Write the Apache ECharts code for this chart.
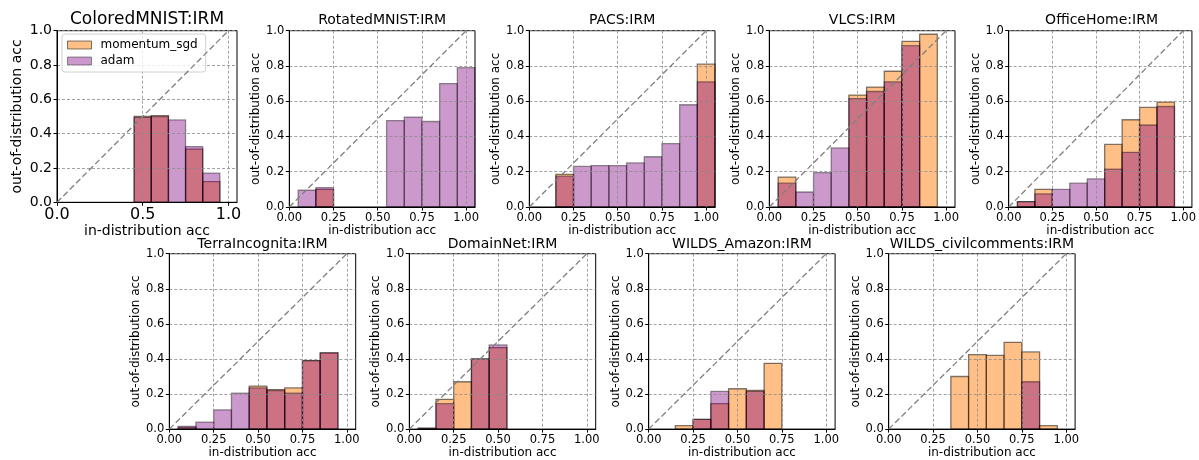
<!DOCTYPE html>
<html>
<head>
<meta charset="utf-8">
<script src="https://cdn.jsdelivr.net/npm/echarts@6/dist/echarts.min.js"></script>
<style>
  html, body { margin: 0; padding: 0; background: #fff; }
  #chart { width: 1199px; height: 460px; }
</style>
</head>
<body>
<div id="chart"></div>
<script>
// histogram bins: centre of each 0.1 wide bin
const binCenters = [0.1, 0.2, 0.3, 0.4, 0.5, 0.6, 0.7, 0.8, 0.9, 1.0];
const panelTitles = ['ColoredMNIST:IRM', 'RotatedMNIST:IRM', 'PACS:IRM', 'VLCS:IRM', 'OfficeHome:IRM',
  'TerraIncognita:IRM', 'DomainNet:IRM', 'WILDS_Amazon:IRM', 'WILDS_civilcomments:IRM'];
const xTicksBig = [0, 0.5, 1.0];
const xTicks = [0, 0.25, 0.5, 0.75, 1.0];

// out-of-distribution acc per bin (0 = empty bin)
const coloredMnistSgd  = [0, 0, 0, 0, 0.50, 0.505, 0, 0.31, 0.12, 0];
const coloredMnistAdam = [0, 0, 0, 0, 0.495, 0.50, 0.48, 0.325, 0.17, 0];
const rotatedMnistSgd  = [0, 0.10, 0, 0, 0, 0, 0, 0, 0, 0];
const rotatedMnistAdam = [0.095, 0.11, 0, 0, 0, 0.49, 0.51, 0.485, 0.70, 0.79];
const pacsSgd  = [0, 0.185, 0, 0, 0, 0, 0, 0, 0, 0.81];
const pacsAdam = [0, 0.175, 0.23, 0.235, 0.235, 0.25, 0.285, 0.36, 0.58, 0.71];
const vlcsSgd  = [0.17, 0, 0, 0, 0.635, 0.68, 0.77, 0.94, 0.98, 0];
const vlcsAdam = [0.135, 0.085, 0.195, 0.335, 0.615, 0.655, 0.71, 0.915, 0, 0];
const officeHomeSgd  = [0.03, 0.10, 0, 0, 0, 0.355, 0.495, 0.565, 0.595, 0];
const officeHomeAdam = [0.03, 0.075, 0.10, 0.135, 0.16, 0.215, 0.31, 0.465, 0.57, 0];
const terraSgd  = [0.01, 0, 0, 0, 0.245, 0.225, 0.235, 0.39, 0.435, 0];
const terraAdam = [0.015, 0.04, 0.11, 0.205, 0.235, 0.22, 0.205, 0.39, 0.435, 0];
const domainNetSgd  = [0.005, 0.17, 0.27, 0.40, 0.465, 0, 0, 0, 0, 0];
const domainNetAdam = [0.005, 0.145, 0, 0.40, 0.48, 0, 0, 0, 0, 0];
const amazonSgd  = [0, 0.02, 0.055, 0.145, 0.23, 0.22, 0.375, 0, 0, 0];
const amazonAdam = [0, 0, 0.055, 0.215, 0, 0.215, 0, 0, 0, 0];
const civilSgd  = [0, 0, 0, 0.30, 0.425, 0.42, 0.495, 0.44, 0.02, 0];
const civilAdam = [0, 0, 0, 0, 0, 0, 0, 0.27, 0, 0];

const sgdValues = [coloredMnistSgd, rotatedMnistSgd, pacsSgd, vlcsSgd, officeHomeSgd,
  terraSgd, domainNetSgd, amazonSgd, civilSgd];
const adamValues = [coloredMnistAdam, rotatedMnistAdam, pacsAdam, vlcsAdam, officeHomeAdam,
  terraAdam, domainNetAdam, amazonAdam, civilAdam];

const FONT = 'DejaVu Sans';
const SGD_FILL = 'rgba(255,127,14,0.5)';
const ADAM_FILL = 'rgba(128,0,128,0.4)';

// pixel boxes of the axes
const layout = [
  { left: 57, top: 30.7, width: 180, height: 171.6, big: true },
  { left: 289.3, top: 30.7, width: 185.7, height: 176.3 },
  { left: 529.3, top: 30.7, width: 185.7, height: 176.3 },
  { left: 769.3, top: 30.7, width: 185.7, height: 176.3 },
  { left: 1008.7, top: 30.7, width: 185.7, height: 176.3 },
  { left: 169.3, top: 253.7, width: 186.4, height: 176.6 },
  { left: 409.3, top: 253.7, width: 186.4, height: 176.6 },
  { left: 648.7, top: 253.7, width: 186.4, height: 176.6 },
  { left: 888.7, top: 253.7, width: 186.4, height: 176.6 }
];

function barRenderer(fill, stroke) {
  return function (params, api) {
    const c = api.value(0), v = api.value(1);
    if (!v) return;
    const p0 = api.coord([c - 0.05, v]);
    const p1 = api.coord([c + 0.05, 0]);
    return {
      type: 'rect',
      shape: { x: p0[0], y: p0[1], width: p1[0] - p0[0], height: p1[1] - p0[1] },
      style: { fill: fill, stroke: stroke, lineWidth: 1.3 }
    };
  };
}

const grids = [], xAxes = [], yAxes = [], series = [], titles = [];
layout.forEach(function (b, i) {
  const big = !!b.big;
  grids.push({ left: b.left, top: b.top, width: b.width, height: b.height,
    show: true, borderColor: '#000', borderWidth: 1, z: 3 });
  titles.push({
    text: panelTitles[i], left: b.left + b.width / 2, textAlign: 'center', padding: 0,
    top: big ? 11 : (i < 5 ? 13 : 237),
    textStyle: { fontFamily: FONT, fontSize: big ? 17 : 14, fontWeight: 'normal', color: '#000' }
  });
  const ticks = big ? xTicksBig : xTicks;
  xAxes.push({
    type: 'value', gridIndex: i, min: 0, max: 1.05, interval: big ? 0.5 : 0.25, z: 3,
    name: 'in-distribution acc', nameLocation: 'middle', nameGap: big ? 20 : 15,
    nameTextStyle: { fontFamily: FONT, fontSize: big ? 14 : 12, color: '#000' },
    axisLine: { show: true, lineStyle: { color: '#000', width: 1 } },
    axisTick: { show: true, length: 3.5, customValues: ticks, lineStyle: { color: '#000' } },
    axisLabel: { customValues: ticks, margin: 5, fontFamily: FONT, fontSize: big ? 16 : 11.5, color: '#000',
      formatter: function (v) { return v.toFixed(big ? 1 : 2); } },
    splitLine: { show: true, lineStyle: { color: '#8a8a8a', width: 0.8, type: [3, 2] } }
  });
  yAxes.push({
    type: 'value', gridIndex: i, min: 0, max: 1, interval: 0.2, z: 3,
    name: 'out-of-distribution acc', nameLocation: 'middle', nameGap: big ? 33 : 27,
    nameTextStyle: { fontFamily: FONT, fontSize: big ? 14 : 12, color: '#000' },
    axisLine: { show: true, lineStyle: { color: '#000', width: 1 } },
    axisTick: { show: true, length: 3.5, lineStyle: { color: '#000' } },
    axisLabel: { margin: 5, fontFamily: FONT, fontSize: big ? 14 : 11.5, color: '#000',
      formatter: function (v) { return v.toFixed(1); } },
    splitLine: { show: true, lineStyle: { color: '#8a8a8a', width: 0.8, type: [3, 2] } }
  });
  series.push({
    name: 'momentum_sgd', type: 'custom', coordinateSystem: 'cartesian2d',
    xAxisIndex: i, yAxisIndex: i, z: 2, itemStyle: { color: SGD_FILL },
    renderItem: barRenderer(SGD_FILL, 'rgba(0,0,0,0.5)'),
    data: binCenters.map(function (c, j) { return [c, sgdValues[i][j]]; })
  });
  series.push({
    name: 'adam', type: 'custom', coordinateSystem: 'cartesian2d',
    xAxisIndex: i, yAxisIndex: i, z: 2, itemStyle: { color: ADAM_FILL },
    renderItem: barRenderer(ADAM_FILL, 'rgba(0,0,0,0.4)'),
    data: binCenters.map(function (c, j) { return [c, adamValues[i][j]]; })
  });
  series.push({
    type: 'line', xAxisIndex: i, yAxisIndex: i, z: 5, silent: true,
    showSymbol: false, symbol: 'none',
    lineStyle: { color: '#808080', width: 1.3, type: [6, 3] },
    data: [[0, 0], [1, 1]]
  });
});

const chart = echarts.init(document.getElementById('chart'));
chart.setOption({
  animation: false,
  backgroundColor: '#fff',
  title: titles,
  grid: grids,
  xAxis: xAxes,
  yAxis: yAxes,
  legend: {
    orient: 'vertical', left: 62, top: 34, padding: [5, 8, 5, 5], itemGap: 4,
    itemWidth: 24, itemHeight: 8, icon: 'rect',
    borderColor: '#d0d0d0', borderWidth: 1, borderRadius: 3,
    backgroundColor: 'rgba(255,255,255,0.8)',
    textStyle: { fontFamily: FONT, fontSize: 12, color: '#000', padding: [0, 0, 0, 4] },
    data: [
      { name: 'momentum_sgd', itemStyle: { color: SGD_FILL, borderColor: 'rgba(0,0,0,0.5)', borderWidth: 1 } },
      { name: 'adam', itemStyle: { color: ADAM_FILL, borderColor: 'rgba(0,0,0,0.4)', borderWidth: 1 } }
    ]
  },
  series: series
});
</script>
</body>
</html>
